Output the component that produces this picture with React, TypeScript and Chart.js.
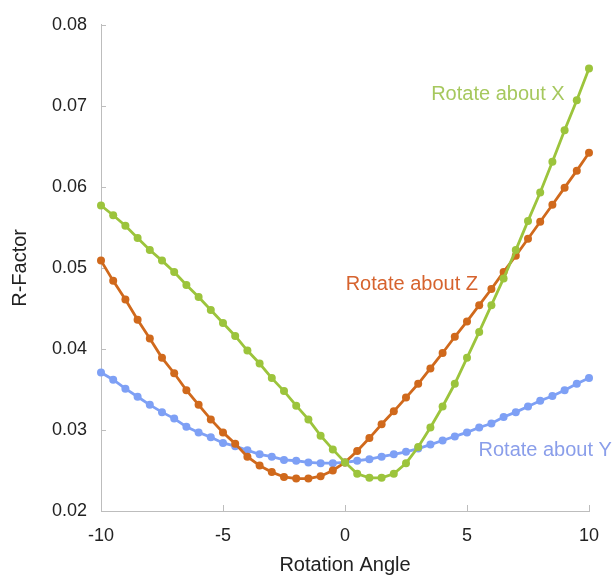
import React, { useEffect, useRef } from "react";
import { Chart, registerables } from "chart.js";

Chart.register(...registerables);

const angles = [
  -10, -9.5, -9, -8.5, -8, -7.5, -7, -6.5, -6, -5.5, -5, -4.5, -4, -3.5, -3, -2.5, -2, -1.5, -1, -0.5,
  0, 0.5, 1, 1.5, 2, 2.5, 3, 3.5, 4, 4.5, 5, 5.5, 6, 6.5, 7, 7.5, 8, 8.5, 9, 9.5, 10,
];

const rotX = [
  0.0577, 0.0565, 0.0552, 0.0537, 0.0522, 0.0509, 0.0495, 0.0479, 0.0464, 0.0448, 0.0432, 0.0416, 0.0398,
  0.0382, 0.0364, 0.0348, 0.033, 0.0313, 0.0293, 0.0276, 0.026, 0.0246, 0.0241, 0.0241, 0.0246, 0.0259,
  0.0279, 0.0303, 0.0329, 0.0357, 0.0389, 0.0421, 0.0454, 0.0487, 0.0522, 0.0558, 0.0593, 0.0631, 0.067,
  0.0707, 0.0746,
];

const rotZ = [
  0.0509, 0.0484, 0.0461, 0.0436, 0.0413, 0.0389, 0.037, 0.0349, 0.0331, 0.0313, 0.0297, 0.0283, 0.0267,
  0.0256, 0.0248, 0.0242, 0.024, 0.024, 0.0243, 0.025, 0.026, 0.0274, 0.029, 0.0307, 0.0323, 0.034, 0.0357,
  0.0376, 0.0395, 0.0415, 0.0434, 0.0454, 0.0474, 0.0495, 0.0515, 0.0536, 0.0557, 0.0578, 0.0599, 0.062,
  0.0642,
];

const rotY = [
  0.0371, 0.0362, 0.0351, 0.0341, 0.0331, 0.0322, 0.0314, 0.0304, 0.0297, 0.0291, 0.0284, 0.028, 0.0275,
  0.027, 0.0267, 0.0263, 0.0262, 0.026, 0.0259, 0.0259, 0.026, 0.0262, 0.0264, 0.0267, 0.027, 0.0273,
  0.0277, 0.0282, 0.0287, 0.0292, 0.0297, 0.0303, 0.0308, 0.0316, 0.0322, 0.0329, 0.0336, 0.0342, 0.0349,
  0.0357, 0.0364,
];

const seriesNames = ["Rotate about X", "Rotate about Z", "Rotate about Y"];
const lineColors = ["#9cc43c", "#d0691c", "#7ea0f5"];
const textColors = ["#a6c85e", "#d6632e", "#8a9eea"];
// label anchors (right edge, vertical middle) in data coordinates
const labelX = [9.0, 5.45, 10.94];
const labelY = [0.0714, 0.0479, 0.0275];

const xTicks = [-10, -5, 0, 5, 10];
const yTicks = [0.02, 0.03, 0.04, 0.05, 0.06, 0.07, 0.08];

const FONT = "'Liberation Sans', Arial, Helvetica, sans-serif";
const AXIS_COLOR = "#bdbdbd";

const innerTicks = {
  id: "innerTicks",
  beforeDatasetsDraw(chart: any) {
    const { ctx, scales } = chart;
    const xs = scales.x;
    const ys = scales.y;
    ctx.save();
    ctx.strokeStyle = AXIS_COLOR;
    ctx.lineWidth = 1;
    ctx.beginPath();
    xTicks.forEach((t) => {
      const px = Math.round(xs.getPixelForValue(t)) + 0.5;
      ctx.moveTo(px, ys.bottom);
      ctx.lineTo(px, ys.bottom - 6);
    });
    yTicks.forEach((t) => {
      const py = Math.round(ys.getPixelForValue(t)) + 0.5;
      ctx.moveTo(xs.left, py);
      ctx.lineTo(xs.left + 5, py);
    });
    ctx.stroke();
    ctx.restore();
  },
};

const seriesLabels = {
  id: "seriesLabels",
  afterDatasetsDraw(chart: any) {
    const { ctx, scales } = chart;
    ctx.save();
    ctx.font = `20px ${FONT}`;
    ctx.textAlign = "right";
    ctx.textBaseline = "middle";
    seriesNames.forEach((name, i) => {
      ctx.fillStyle = textColors[i];
      ctx.fillText(name, scales.x.getPixelForValue(labelX[i]), scales.y.getPixelForValue(labelY[i]));
    });
    ctx.restore();
  },
};

export default function App() {
  const ref = useRef<HTMLCanvasElement>(null);

  useEffect(() => {
    document.body.style.margin = "0";
    const series = [rotX, rotZ, rotY];
    const chart = new Chart(ref.current as HTMLCanvasElement, {
      type: "line",
      data: {
        datasets: series.map((vals, i) => ({
          label: seriesNames[i],
          data: angles.map((a, j) => ({ x: a, y: vals[j] })),
          borderColor: lineColors[i],
          backgroundColor: lineColors[i],
          pointBackgroundColor: lineColors[i],
          pointBorderWidth: 0,
          pointRadius: 4,
          borderWidth: 2.8,
          tension: 0,
          clip: false as any,
        })),
      },
      options: {
        animation: false,
        responsive: false,
        layout: { padding: { top: 22, right: 27, left: 0, bottom: 0 } },
        plugins: { legend: { display: false }, tooltip: { enabled: false } },
        scales: {
          x: {
            type: "linear",
            min: -10,
            max: 10,
            afterFit(s: any) {
              s.height = 67;
            },
            afterBuildTicks(s: any) {
              s.ticks = xTicks.map((v) => ({ value: v }));
            },
            grid: { display: true, drawOnChartArea: false, drawTicks: false },
            border: { display: true, color: AXIS_COLOR, width: 1 },
            ticks: {
              padding: 14,
              color: "#222",
              font: { family: FONT, size: 18 },
              callback: (v: any) => String(v),
            },
            title: {
              display: true,
              text: "Rotation Angle",
              color: "#222",
              font: { family: FONT, size: 20 },
              padding: { top: 0, bottom: 1 },
            },
          },
          y: {
            type: "linear",
            min: 0.02,
            max: 0.08,
            afterFit(s: any) {
              s.width = 101;
            },
            afterBuildTicks(s: any) {
              s.ticks = yTicks.map((v) => ({ value: v }));
            },
            grid: { display: true, drawOnChartArea: false, drawTicks: false },
            border: { display: true, color: AXIS_COLOR, width: 1 },
            ticks: {
              padding: 14,
              color: "#222",
              font: { family: FONT, size: 18 },
              callback: (v: any) => Number(v).toFixed(2),
            },
            title: {
              display: true,
              text: "R-Factor",
              color: "#222",
              font: { family: FONT, size: 20 },
              padding: { top: 8, bottom: 0 },
            },
          },
        },
      },
      plugins: [innerTicks, seriesLabels],
    });
    return () => chart.destroy();
  }, []);

  return (
    <div style={{ width: 616, height: 578 }}>
      <canvas ref={ref} width={616} height={578} />
    </div>
  );
}
